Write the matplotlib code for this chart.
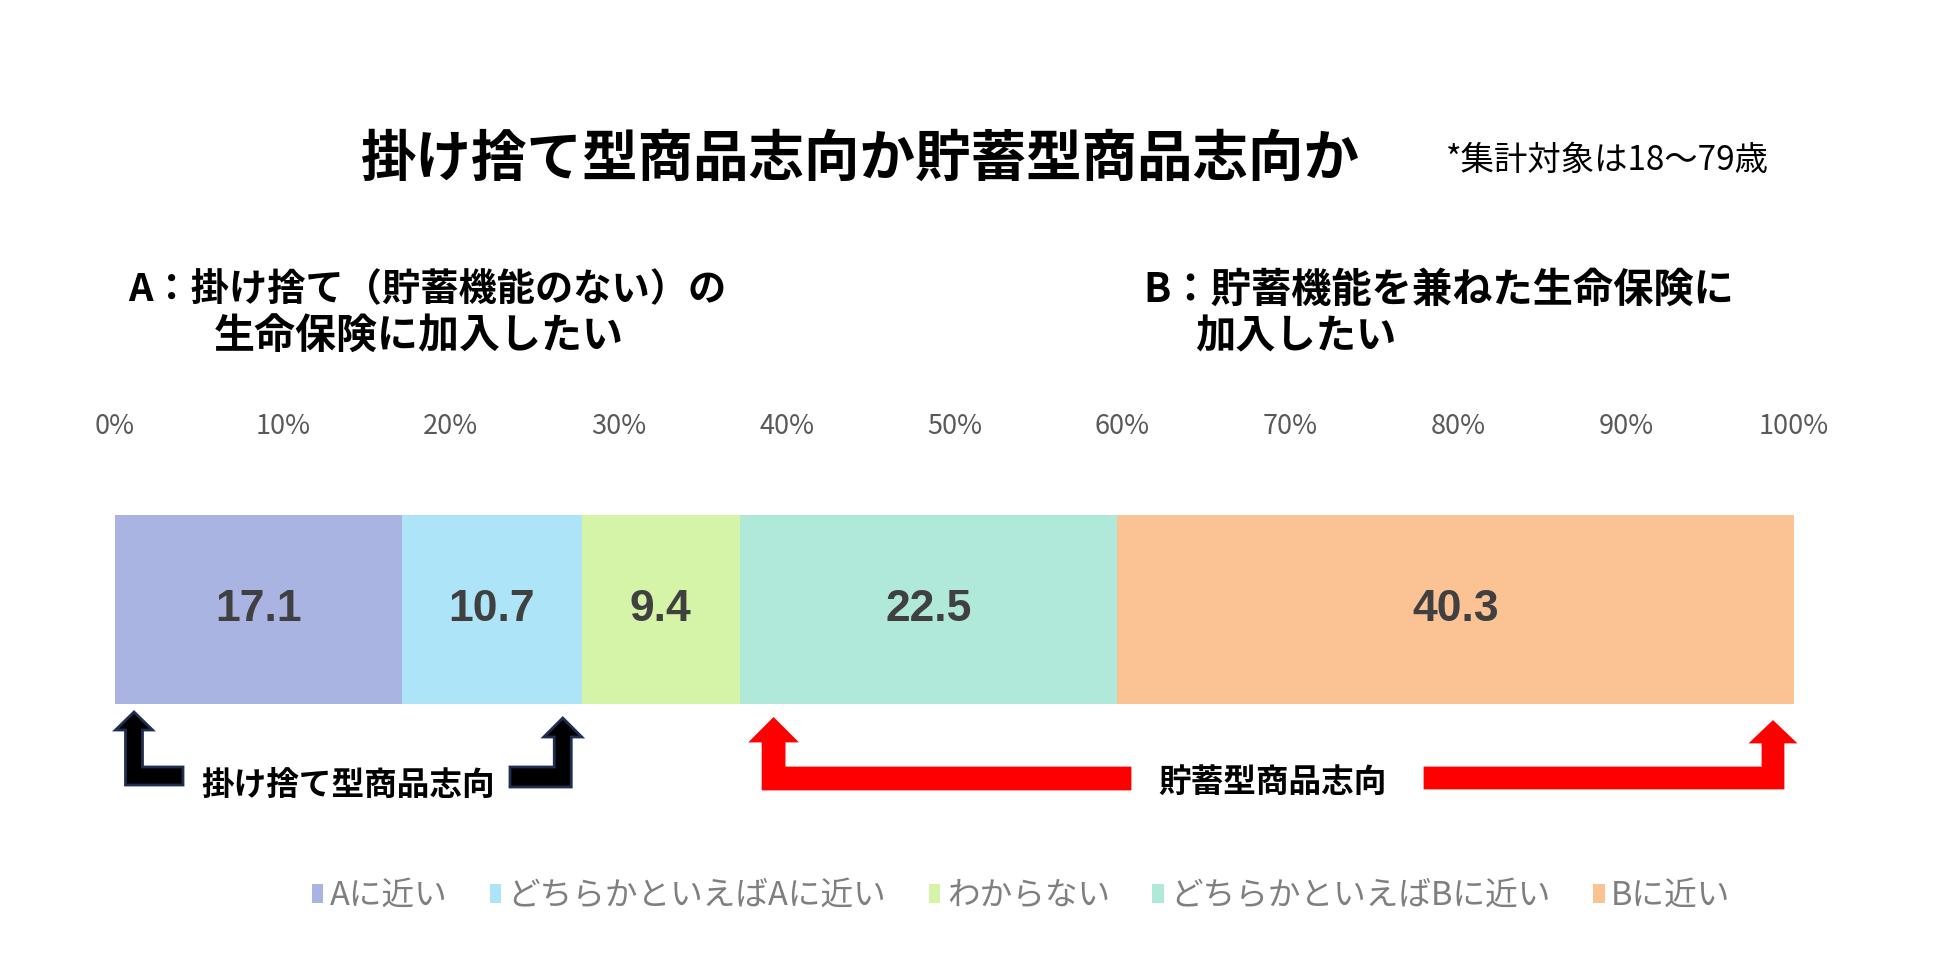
import matplotlib
matplotlib.use("Agg")
import matplotlib.pyplot as plt
from matplotlib.patches import Polygon
import numpy as np

plt.rcParams['font.family'] = ['Noto Sans CJK JP', 'DejaVu Sans']

# data
categories = ['Aに近い', 'どちらかといえばAに近い', 'わからない', 'どちらかといえばBに近い', 'Bに近い']
values = [17.1, 10.7, 9.4, 22.5, 40.3]
colors = ['#A9B4E2', '#AEE4F7', '#D6F4A8', '#B0E8D9', '#FBC294']
tick_vals = list(range(0, 101, 10))
tick_labels = [f'{v}%' for v in tick_vals]

title = '掛け捨て型商品志向か貯蓄型商品志向か'
note = '*集計対象は18～79歳'
a_lines = ['A：掛け捨て（貯蓄機能のない）の', '生命保険に加入したい']
b_lines = ['B：貯蓄機能を兼ねた生命保険に', '加入したい']
group_a = '掛け捨て型商品志向'
group_b = '貯蓄型商品志向'

W, H = 1950, 960
fig = plt.figure(figsize=(W / 100, H / 100), dpi=100)

# bar axes (pixel box)
bx0, bx1, by0, by1 = 115, 1794, 515, 704
ax = fig.add_axes([bx0 / W, 1 - by1 / H, (bx1 - bx0) / W, (by1 - by0) / H])
left = 0
bars = []
for cat, v, c in zip(categories, values, colors):
    b = ax.barh(0, v, left=left, height=1.0, color=c, label=cat)
    bars.append(b)
    ax.text(left + v / 2, 0, f'{v}', ha='center', va='center',
            fontsize=32, fontweight='bold', color='#404040', family='Liberation Sans')
    left += v
ax.set_xlim(0, 100)
ax.set_ylim(-0.5, 0.5)
ax.set_xticks(tick_vals)
ax.set_xticklabels(tick_labels)
ax.tick_params(axis='x', top=True, labeltop=True, bottom=False, labelbottom=False,
               length=0, pad=54, labelsize=19.5, labelcolor='#595959')
ax.set_yticks([])
for s in ax.spines.values():
    s.set_visible(False)

# overlay in pixel coordinates
ov = fig.add_axes([0, 0, 1, 1])
ov.set_xlim(0, W)
ov.set_ylim(H, 0)
ov.axis('off')
ov.patch.set_alpha(0)

ov.text(860, 160, title, ha='center', va='center', fontsize=40, fontweight='bold', color='black')
ov.text(1446, 160, note, ha='left', va='center', fontsize=24, color='black')
ov.text(427, 290, a_lines[0], ha='center', va='center', fontsize=27.5, fontweight='bold')
ov.text(419, 337, a_lines[1], ha='center', va='center', fontsize=29.5, fontweight='bold')
ov.text(1143, 290, b_lines[0], ha='left', va='center', fontsize=29, fontweight='bold')
ov.text(1195, 337, b_lines[1], ha='left', va='center', fontsize=29, fontweight='bold')


def px(p):
    return bx0 + p / 100 * (bx1 - bx0)


def l_arrow(cx, tip_y, base_y, bottom, arm_end, sw, hw, arm_t, fc, ec):
    d = 1 if arm_end > cx else -1
    pts = [(cx, tip_y), (cx + d * hw, base_y), (cx + d * sw, base_y),
           (cx + d * sw, bottom - arm_t), (arm_end, bottom - arm_t), (arm_end, bottom),
           (cx - d * sw, bottom), (cx - d * sw, base_y), (cx - d * hw, base_y)]
    ov.add_patch(Polygon(pts, closed=True, facecolor=fc, edgecolor=ec, lw=2, joinstyle='miter'))


cum = np.cumsum([0] + values)
l_arrow(px(cum[0]) + 19, 712, 730, 785, 183, 8.5, 18.5, 18, 'black', '#1F2D50')
l_arrow(px(cum[2]) - 19, 718, 737, 787, 510, 8.5, 19, 20, 'black', '#1F2D50')
l_arrow(px(cum[3]) + 34, 719, 741, 789, 1130, 10.5, 22, 21, '#FF0000', '#FF0000')
l_arrow(px(cum[5]) - 21, 722, 742, 788, 1425, 10, 21, 20, '#FF0000', '#FF0000')

ov.text(348, 785, group_a, ha='center', va='center', fontsize=23.5, fontweight='bold')
ov.text(1273, 782, group_b, ha='center', va='center', fontsize=23.5, fontweight='bold')

leg = fig.legend(handles=bars, labels=categories, loc='center', bbox_to_anchor=(1021 / W, 1 - 896 / H),
                 ncol=5, frameon=False, fontsize=23.5, labelcolor='#7F7F7F',
                 handlelength=0.35, handleheight=0.55, handletextpad=0.2, columnspacing=1.3)

fig.savefig('out.png', dpi=100, facecolor='white')
